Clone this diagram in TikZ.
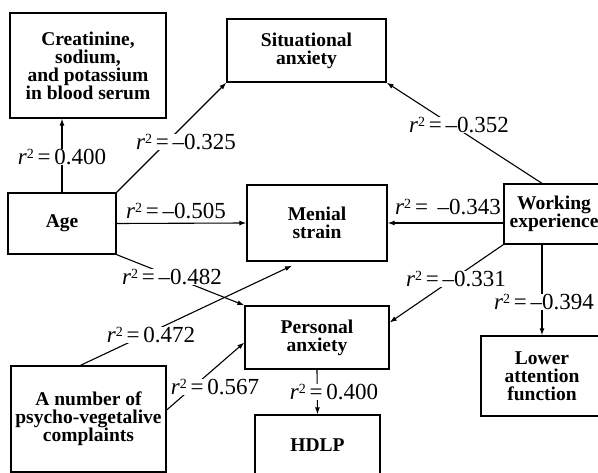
\documentclass[tikz,border=0pt]{standalone}
\usepackage{fontspec}
\setmainfont{Liberation Serif}
\usepackage{tikz}
\usetikzlibrary{arrows.meta}

\newcommand{\rsq}{\textit{r}\raisebox{0.27em}{\fontsize{14}{14}\selectfont 2}\,=\,}

\begin{document}
\begin{tikzpicture}[x=1pt, y=-1pt, >={Latex[length=7pt,width=5pt]},
    box/.style={draw, line width=1.3pt, align=center, inner sep=0pt,
        font=\fontsize{19.5}{18}\selectfont\bfseries},
    rlabel/.style={fill=white, inner sep=0.5pt, font=\fontsize{23}{25}\selectfont},
    link/.style={->, line width=1.1pt}]
            \clip (0,0) rectangle (598,473);

            % Boxes
            \node[box, minimum width=156pt, minimum height=105pt] (Creat) at (88,65.5) {Creatinine,\\sodium,\\and potassium\\in blood serum};
            \node[box, minimum width=159pt, minimum height=63pt] (Situational) at (306.5,50.5) {Situational\\anxiety};
            \node[box, minimum width=108pt, minimum height=61pt] (Age) at (62,223.5) {Age};
            \node[box, minimum width=140pt, minimum height=76pt] (Menial) at (317,223) {Menial\\strain};
            \node[box, minimum width=100pt, minimum height=60pt] (Working) at (554,214) {Working\\experience};
            \node[box, minimum width=144pt, minimum height=63pt] (Personal) at (317,337.5) {Personal\\anxiety};
            \node[box, minimum width=155pt, minimum height=106pt] (Complaints) at (88.5,419) {A number of\\psycho-vegetalive\\complaints};
            \node[box, minimum width=125pt, minimum height=60pt] (HDLP) at (317.5,445) {HDLP};
            \node[box, minimum width=122pt, minimum height=80pt] (Lower) at (542,376) {Lower\\attention\\function};

            % Connections
            \draw[link] (Age.north) -- (Creat.south -| Age.north);
            \draw[link] (Age.north east) -- (Situational.south west);
            \draw[link] (Age.east) -- (Menial.west);
            \draw[link] (Age.south east) -- (Personal.north west);
            \draw[link] ([xshift=-8pt]Complaints.north) -- ([xshift=-25pt,yshift=-4pt]Menial.south);
            \draw[link] ([yshift=9pt]Complaints.east) -- ([yshift=-5pt]Personal.west);
            \draw[link] (Personal.south) -- (HDLP.north);
            \draw[link] (Working.north -| Lower.north) -- (Situational.south east);
            \draw[link] (Menial.east -| Working.west) -- (Menial.east);
            \draw[link] (Working.south west) -- ([yshift=15pt]Personal.east);
            \draw[link] (Working.south -| Lower.north) -- (Lower.north);

            % Coefficients
            \node[rlabel] (r-creat) at (62,157) {\rsq0.400};
            \node[rlabel] (r-sit) at (186,142) {\rsq–0.325};
            \node[rlabel, fill=none] (r-menial) at (176,211) {\rsq–0.505};
            \node[rlabel] (r-pers) at (172,277) {\rsq–0.482};
            \node[rlabel] (r-compm) at (151,335) {\rsq0.472};
            \node[rlabel] (r-compp) at (215,387) {\rsq0.567};
            \node[rlabel] (r-hdlp) at (334,392) {\rsq0.400};
            \node[rlabel] (r-wsit) at (459,125) {\rsq–0.352};
            \node[rlabel, fill=none] (r-wmen) at (448,207) {\rsq\ –0.343};
            \node[rlabel] (r-wpers) at (456,279) {\rsq–0.331};
            \node[rlabel] (r-wlow) at (544,302) {\rsq–0.394};

        \end{tikzpicture}
\end{document}
